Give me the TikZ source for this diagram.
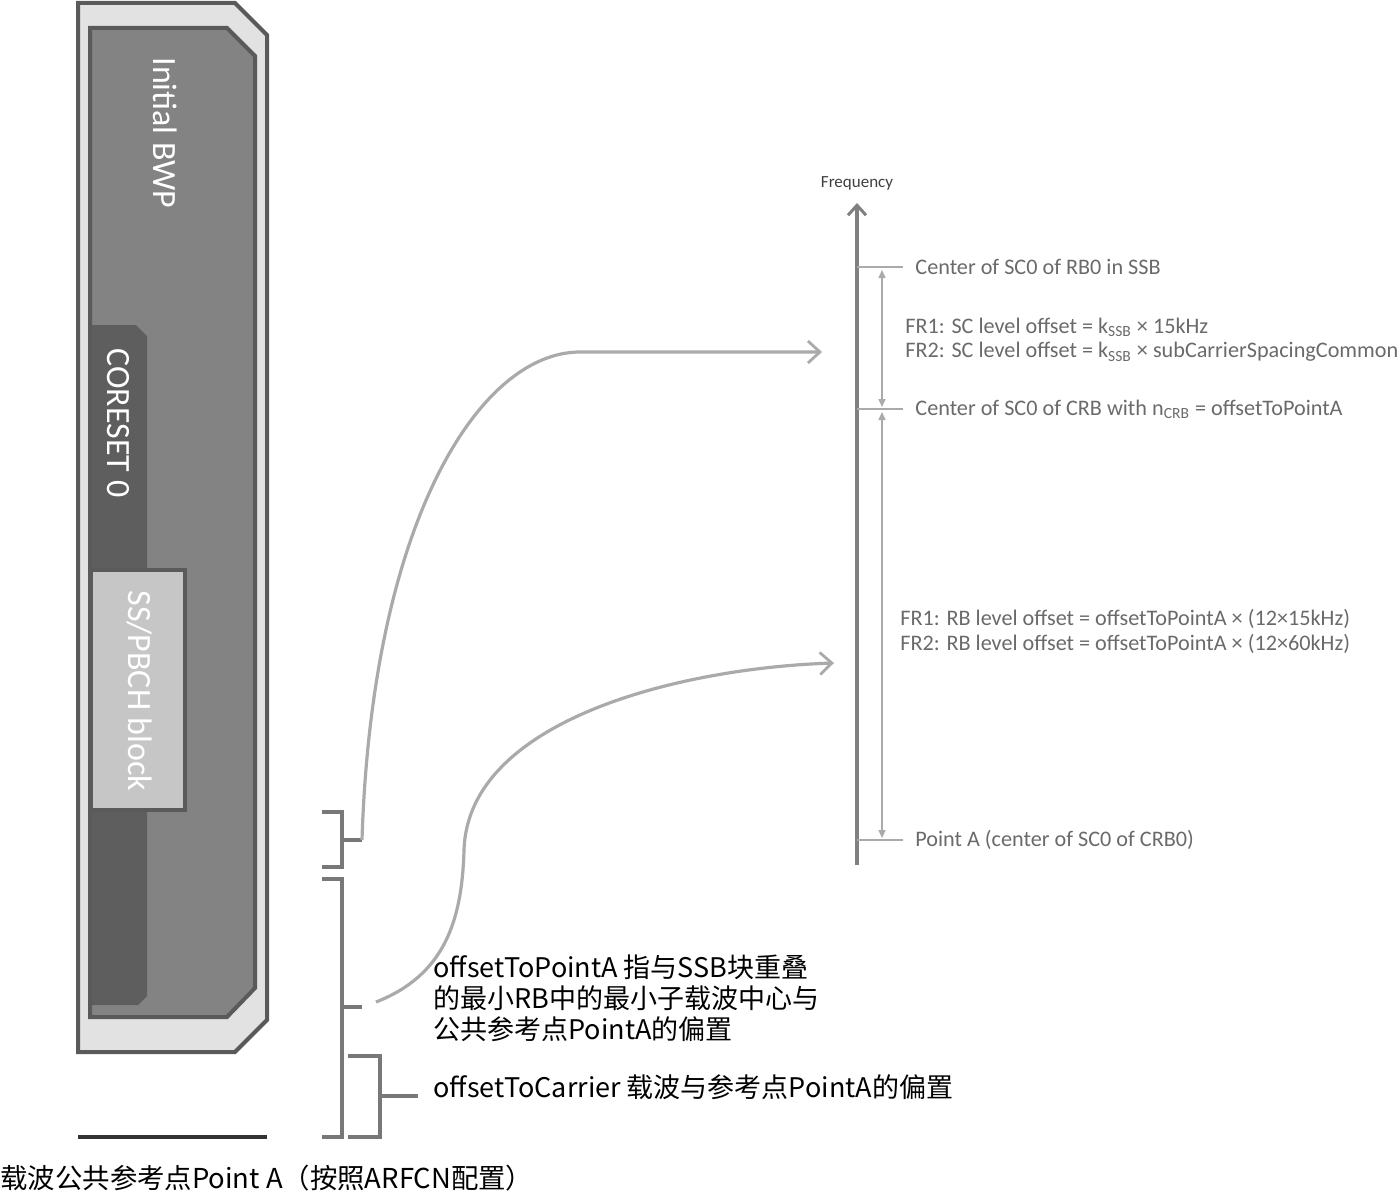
\documentclass[tikz,border=0pt]{standalone}
\usepackage{fontspec}
\setmainfont{Carlito}
\newfontfamily\cjk{Noto Sans CJK SC}
\usepackage{xcolor}
\usepackage{tikz}
\usetikzlibrary{positioning,arrows.meta}

\definecolor{outerfill}{HTML}{E2E2E2}
\definecolor{edgegray}{HTML}{5A5A5A}
\definecolor{bwpgray}{HTML}{838383}
\definecolor{coregray}{HTML}{5E5E5E}
\definecolor{ssbgray}{HTML}{C6C6C6}
\definecolor{brackgray}{HTML}{787878}
\definecolor{curvegray}{HTML}{AAAAAA}
\definecolor{axisgray}{HTML}{808080}
\definecolor{labelgray}{HTML}{6A6A6A}

\begin{document}
\begin{tikzpicture}[
    x=0.5pt, y=-0.5pt,
    region/.style={
        draw=edgegray,
        line width=2pt,
        line join=miter
    },
    vlabel/.style={
        rotate=-90,
        text=white,
        inner sep=0pt,
        font=\fontsize{17}{20}\selectfont
    },
    bracket/.style={
        draw=brackgray,
        line width=1.6pt
    },
    link/.style={
        draw=curvegray,
        line width=1.6pt,
        -{Straight Barb[length=6pt,width=11pt,line width=1.4pt]}
    },
    axis/.style={
        draw=axisgray,
        line width=1.6pt,
        -{Straight Barb[length=5pt,width=9pt,line width=1.5pt]}
    },
    tick/.style={
        draw=curvegray,
        line width=0.8pt
    },
    span/.style={
        draw=curvegray,
        line width=0.7pt,
        {Triangle[length=4pt,width=3.5pt]}-{Triangle[length=4pt,width=3.5pt]}
    },
    axlabel/.style={
        anchor=west,
        inner sep=0pt,
        text=labelgray,
        font=\fontsize{11.1}{13}\selectfont
    },
    note/.style={
        anchor=west,
        inner sep=0pt,
        align=left,
        font=\cjk\fontsize{13.5}{15.5}\selectfont
    }
]
\useasboundingbox (0,0) rectangle (1400,1193);

% carrier, initial BWP, CORESET 0 and SSB
\filldraw[region, fill=outerfill]
    (78,3) -- (235,3) -- (267,35) -- (267,1020) -- (235,1052) -- (78,1052) -- cycle;
\fill[bwpgray]
    (90,28) -- (227,28) -- (255,56) -- (255,988) -- (227,1017) -- (90,1017) -- cycle;
\fill[coregray]
    (90,325) -- (136,325) -- (147,336) -- (147,996) -- (138,1005) -- (90,1005) -- cycle;
\filldraw[region, fill=ssbgray] (91,570) rectangle (185,810);
\draw[region]
    (90,28) -- (227,28) -- (255,56) -- (255,988) -- (227,1017) -- (90,1017) -- cycle;

\node[vlabel] (bwp) at (165,133) {Initial BWP};
\node[vlabel] (coreset) at (118,423) {CORESET 0};
\node[vlabel] (ssb) at (140,691) {SS/PBCH block};

% point A line
\draw[draw=black!80, line width=2pt] (78,1137) -- (267,1137);
\node[note, font=\cjk\fontsize{13.7}{15}\selectfont] (pointa) at (0,1178)
    {载波公共参考点Point A（按照ARFCN配置）};

% brackets
\draw[bracket] (322,812) -- (342,812) -- (342,867) -- (322,867);
\draw[bracket] (342,840) -- (362,840) coordinate (b1tip);
\draw[bracket] (322,879) -- (342,879) -- (342,1137) -- (322,1137);
\draw[bracket] (342,1007) -- (362,1007) coordinate (b2tip);
\draw[bracket] (348,1056) -- (380,1056) -- (380,1137) -- (348,1137);
\draw[bracket] (380,1096) -- (418,1096) coordinate (b3tip);

\node[note] (otpa) at (433,998)
    {offsetToPointA 指与SSB块重叠\\的最小RB中的最小子载波中心与\\公共参考点PointA的偏置};
\node[note] (otc) at (433,1087)
    {offsetToCarrier 载波与参考点PointA的偏置};

% frequency axis
\coordinate (axbot) at (857,865);
\coordinate (axtop) at (857,203);
\draw[axis] (axbot) -- (axtop);
\node[above=6pt of axtop, inner sep=0pt, text=black!75,
      font=\fontsize{8.5}{10}\selectfont] (freq) {Frequency};

\coordinate (ssbsc) at (857,267);
\coordinate (crbsc) at (857,409);
\coordinate (pta) at (857,840);
\draw[tick] (ssbsc) -- ++(46,0);
\draw[tick] (crbsc) -- ++(46,0);
\draw[tick] (pta) -- ++(46,0);
\draw[span] ([xshift=12.5pt,yshift=-1.5pt]ssbsc) -- ([xshift=12.5pt,yshift=1pt]crbsc);
\draw[span] ([xshift=12.5pt,yshift=-1.5pt]crbsc) -- ([xshift=12.5pt,yshift=1pt]pta);

\node[axlabel] (lssb) at (915,267) {Center of SC0 of RB0 in SSB};
\node[axlabel] (scfr1) at (905,327) {FR1: SC level offset = k\textsubscript{SSB} × 15kHz};
\node[axlabel] (scfr2) at (905,352) {FR2: SC level offset = k\textsubscript{SSB} × subCarrierSpacingCommon};
\node[axlabel] (lcrb) at (915,409) {Center of SC0 of CRB with n\textsubscript{CRB} = offsetToPointA};
\node[axlabel] (rbfr1) at (900,619) {FR1: RB level offset = offsetToPointA × (12×15kHz)};
\node[axlabel] (rbfr2) at (900,644) {FR2: RB level offset = offsetToPointA × (12×60kHz)};
\node[axlabel] (lpta) at (915,840) {Point A (center of SC0 of CRB0)};

% curved links
\coordinate (arrsc) at (822,352);
\coordinate (arrrb) at (834,663);
\coordinate (c2start) at (376,1002);
\draw[link] (b1tip) .. controls (372,520) and (480,352) .. (580,352) -- (arrsc);
\draw[link] (c2start) .. controls (445,975) and (462,920) .. (464,850)
    .. controls (468,720) and (680,668) .. (arrrb);

\end{tikzpicture}
\end{document}
